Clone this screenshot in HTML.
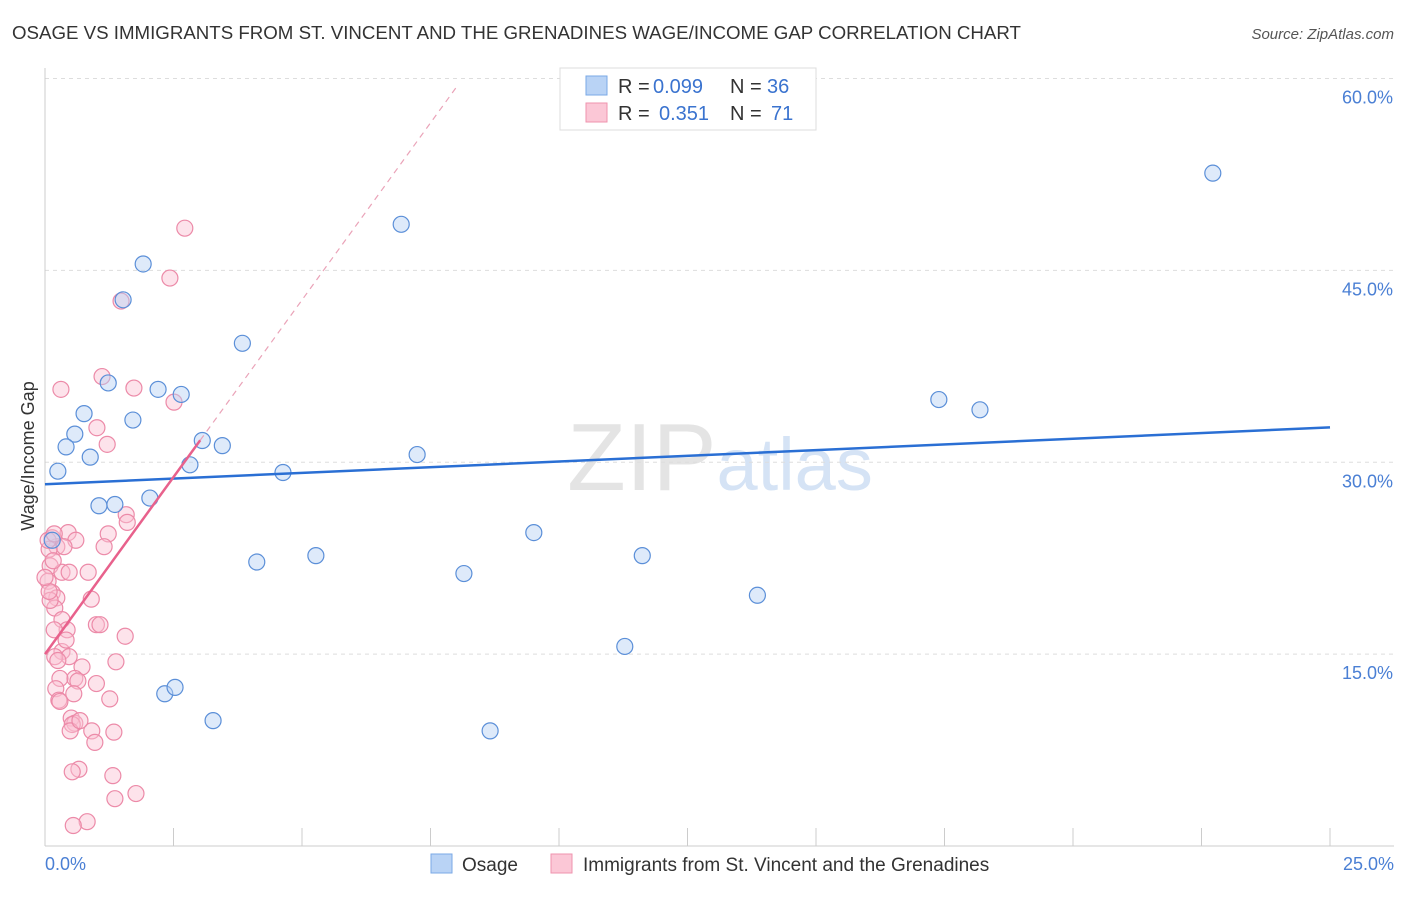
<!DOCTYPE html>
<html><head><meta charset="utf-8"><style>
body{margin:0;background:#fff;font-family:"Liberation Sans",sans-serif}
svg text{font-family:"Liberation Sans",sans-serif}
</style></head><body>
<svg id="c" width="1406" height="892" xmlns="http://www.w3.org/2000/svg">
<text x="12" y="39" font-size="18.7" fill="#333">OSAGE VS IMMIGRANTS FROM ST. VINCENT AND THE GRENADINES WAGE/INCOME GAP CORRELATION CHART</text>
<text x="1394" y="39" font-size="15" fill="#555" font-style="italic" text-anchor="end">Source: ZipAtlas.com</text>
<text x="720" y="490" font-size="96" fill="#e4e4e4" text-anchor="middle" font-family="Liberation Serif">ZIP<tspan fill="#d5e3f5" font-family="Liberation Sans" font-size="74">atlas</tspan></text>
<g id="grid"></g><g id="marks"></g>
<text transform="translate(34,456) rotate(-90)" font-size="18" fill="#333" text-anchor="middle">Wage/Income Gap</text>
<text x="45" y="870" font-size="18" fill="#4a7fd4">0.0%</text>
<text x="1394" y="870" font-size="18" fill="#4a7fd4" text-anchor="end">25.0%</text>
<g>
<rect x="560" y="68" width="256" height="62" fill="#fff" stroke="#ddd"/>
<rect x="586" y="76" width="21" height="19" fill="#b9d3f5" stroke="#7aa8e6"/>
<rect x="586" y="103" width="21" height="19" fill="#fbc7d6" stroke="#ef93ae"/>
<text x="618" y="93" font-size="20" fill="#333">R =</text>
<text x="653" y="93" font-size="20" fill="#3a73cf">0.099</text>
<text x="730" y="93" font-size="20" fill="#333">N =</text>
<text x="767" y="93" font-size="20" fill="#3a73cf">36</text>
<text x="618" y="120" font-size="20" fill="#333">R =</text>
<text x="659" y="120" font-size="20" fill="#3a73cf">0.351</text>
<text x="730" y="120" font-size="20" fill="#333">N =</text>
<text x="771" y="120" font-size="20" fill="#3a73cf">71</text>
</g>
<g>
<rect x="431" y="854" width="21" height="19" fill="#b9d3f5" stroke="#7aa8e6"/>
<text x="462" y="871" font-size="19" fill="#333">Osage</text>
<rect x="551" y="854" width="21" height="19" fill="#fbc7d6" stroke="#ef93ae"/>
<text x="583" y="871" font-size="19" fill="#333">Immigrants from St. Vincent and the Grenadines</text>
</g>
</svg>
<script>
const yTicks=[15,30,45,60];
const yTickLabels=["15.0%","30.0%","45.0%","60.0%"];
const xTicks=[0,2.5,5,7.5,10,12.5,15,17.5,20,22.5,25];
const osageX=[22.72,6.93,1.91,1.52,3.84,1.23,2.2,2.65,0.76,1.71,0.58,0.41,3.06,3.45,0.88,0.25,2.82,4.63,7.24,17.39,18.19,2.04,1.05,1.36,4.12,5.27,8.15,9.51,11.62,13.86,11.28,2.33,2.53,3.27,8.66,0.14];
const osageY=[52.6,48.6,45.5,42.7,39.3,36.2,35.7,35.3,33.8,33.3,32.2,31.2,31.7,31.3,30.4,29.3,29.8,29.2,30.6,34.9,34.1,27.2,26.6,26.7,22.2,22.7,21.3,24.5,22.7,19.6,15.6,11.9,12.4,9.8,9.0,23.9];
const vinX=[2.72,2.43,1.48,1.11,1.73,0.31,2.51,1.01,1.21,1.58,1.6,0.45,1.23,0.14,0.6,0.23,0.37,1.15,0.08,0.1,0.33,0.47,0.84,0.06,0.14,0.23,0.9,0.19,0.33,1.0,1.07,0.43,1.56,0.18,0.33,0.47,0.19,0.72,1.38,0.58,0.29,1.0,0.64,0.21,0.56,0.27,0.51,0.58,0.53,0.91,1.34,0.49,0.97,0.66,0.53,1.32,1.36,1.77,0.82,0.55,0.06,0.1,0.16,0.25,0.41,0.08,0.18,0.29,0.68,1.26,0.0];
const vinY=[48.3,44.4,42.6,36.7,35.8,35.7,34.7,32.7,31.4,25.9,25.3,24.5,24.4,24.1,23.9,23.4,23.4,23.4,23.2,21.9,21.4,21.4,21.4,20.7,19.8,19.4,19.3,18.6,17.7,17.3,17.3,16.9,16.4,16.9,15.2,14.8,14.8,14.0,14.4,13.1,13.1,12.7,12.9,12.3,11.9,11.4,10.0,9.6,9.5,9.0,8.9,9.0,8.1,6.0,5.8,5.5,3.7,4.1,1.9,1.6,23.9,19.2,22.3,14.5,16.1,19.9,24.4,11.3,9.8,11.5,21.0];
const osageTrend=[[0,28.28],[25,32.73]];
const vinTrendSolid=[[0,15.0],[3.02,31.72]];
const vinTrendDash=[[3.02,31.72],[8.0,59.3]];
const X=v=>45+v/25*1285, Y=v=>846-v/60*767.5;
const NS="http://www.w3.org/2000/svg";
function mk(p,t,a){const e=document.createElementNS(NS,t);for(const k in a)e.setAttribute(k,a[k]);p.appendChild(e);return e;}
const grid=document.getElementById('grid'),marks=document.getElementById('marks');
yTicks.forEach((t,i)=>{
 const g=mk(grid,'line',{x1:45,x2:1394,y1:Y(t),y2:Y(t),stroke:'#ddd','stroke-dasharray':'4,4'});
 
 
 const l=mk(grid,'text',{x:1393,y:Y(t)+25,'font-size':18,fill:'#4a7fd4','text-anchor':'end'});
 l.textContent=yTickLabels[i];
 
 
});
const ax=mk(grid,'line',{x1:45,x2:1394,y1:846,y2:846,stroke:'#ccc'});


const ay=mk(grid,'line',{x1:45,x2:45,y1:68,y2:846,stroke:'#ccc'});


xTicks.forEach(t=>{
 const e=mk(grid,'line',{x1:X(t),x2:X(t),y1:828,y2:846,stroke:'#ccc'});
 
 
});
function dots(xs,ys,fill,stroke,name){xs.forEach((x,i)=>{
 const c=mk(marks,'circle',{cx:X(x),cy:Y(ys[i]),r:8,fill:fill,'fill-opacity':0.45,stroke:stroke,'stroke-width':1.2});
 
 
});}
dots(vinX,vinY,'#fbc0d2','#ec8aa8','vincent-point');
dots(osageX,osageY,'#b6d0f3','#5b8fd8','osage-point');
function ln(p,st,w,dash,name){const e=mk(marks,'line',{x1:X(p[0][0]),y1:Y(p[0][1]),x2:X(p[1][0]),y2:Y(p[1][1]),stroke:st,'stroke-width':w});
 if(dash)e.setAttribute('stroke-dasharray',dash);
 
 }
ln(osageTrend,'#2a6fd4',2.5,null,'osage-trendline');
ln(vinTrendSolid,'#e8618c',2.5,null,'vincent-trendline');
ln(vinTrendDash,'#eaa3b8',1.2,'6,5','vincent-trendline-extension');
</script>
</body></html>
